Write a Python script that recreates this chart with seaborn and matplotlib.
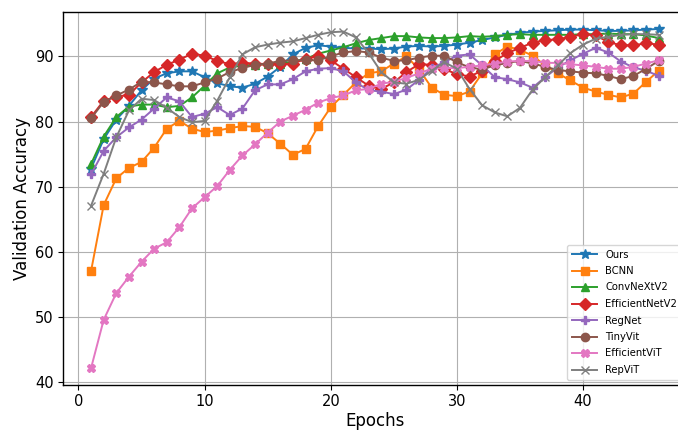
import matplotlib
matplotlib.use("Agg")
import matplotlib.pyplot as plt
import seaborn as sns
import numpy as np

epochs = list(range(1, 47))

ours = [72.8, 77.3, 80.3, 82.4, 84.8, 86.6, 87.4, 87.7, 87.7, 86.8,
        85.9, 85.4, 85.2, 85.8, 86.9, 88.4, 90.3, 91.3, 91.7, 91.5,
        91.3, 91.2, 91.2, 91.1, 91.2, 91.5, 91.6, 91.5, 91.6, 91.8,
        92.1, 92.5, 92.9, 93.3, 93.6, 93.8, 93.9, 94.0, 94.1, 94.1,
        94.0, 93.9, 93.9, 94.0, 94.1, 94.2]
bcnn = [57.1, 67.2, 71.3, 72.9, 73.8, 76.0, 78.9, 80.1, 78.9, 78.4,
        78.6, 79.0, 79.3, 79.2, 78.2, 76.6, 74.9, 75.8, 79.3, 82.2,
        84.1, 86.0, 87.4, 87.7, 88.9, 90.0, 88.0, 85.2, 84.1, 83.9,
        84.6, 87.4, 90.3, 91.5, 91.0, 90.1, 88.6, 87.4, 86.3, 85.2,
        84.6, 84.1, 83.7, 84.3, 86.1, 87.8]
convnext = [73.5, 77.7, 80.7, 82.3, 82.6, 82.6, 82.2, 82.4, 83.7, 85.5,
            87.4, 88.3, 88.6, 88.7, 88.8, 88.9, 89.2, 89.6, 90.4, 90.9,
            91.4, 92.0, 92.5, 92.8, 93.1, 93.1, 92.9, 92.8, 92.8, 92.9,
            93.1, 93.0, 93.1, 93.3, 93.4, 93.3, 93.3, 93.3, 93.3, 93.4,
            93.4, 93.5, 93.4, 93.4, 93.2, 92.8]
effnet = [80.7, 83.2, 83.8, 84.1, 86.0, 87.6, 88.7, 89.5, 90.4, 90.1,
          89.3, 88.8, 89.0, 88.9, 88.8, 88.8, 88.9, 89.6, 90.1, 89.4,
          88.1, 86.8, 85.5, 85.0, 86.0, 87.6, 88.8, 88.7, 88.0, 87.3,
          86.9, 87.8, 89.3, 90.5, 91.3, 92.1, 92.5, 92.6, 93.0, 93.4,
          93.2, 92.2, 91.7, 91.7, 92.0, 91.8]
regnet = [71.9, 75.5, 77.6, 79.1, 80.3, 82.0, 83.7, 83.1, 80.7, 81.2,
          82.2, 81.0, 82.0, 84.8, 85.7, 85.7, 86.5, 87.7, 88.1, 88.2,
          87.7, 86.0, 84.8, 84.6, 84.2, 84.9, 86.4, 88.2, 89.1, 90.1,
          90.3, 88.6, 86.8, 86.5, 86.0, 85.2, 86.8, 88.3, 89.4, 90.4,
          91.3, 90.6, 89.2, 88.3, 87.8, 87.0]
tinyvit = [80.5, 83.0, 84.0, 84.9, 86.1, 86.0, 85.7, 85.4, 85.4, 86.0,
           86.6, 87.6, 88.2, 88.7, 88.9, 89.3, 89.4, 89.4, 89.4, 90.0,
           90.6, 90.8, 90.6, 89.8, 89.3, 89.4, 89.8, 90.1, 90.1, 89.1,
           88.3, 88.0, 88.6, 89.0, 89.3, 88.9, 88.4, 87.9, 87.7, 87.5,
           87.4, 87.0, 86.5, 87.0, 88.1, 89.3]
effvit = [42.2, 49.6, 53.7, 56.2, 58.5, 60.5, 61.5, 63.8, 66.7, 68.4,
          70.1, 72.6, 74.8, 76.5, 78.3, 80.0, 80.9, 81.8, 82.9, 83.6,
          84.0, 84.8, 85.0, 85.8, 86.1, 86.7, 87.4, 88.1, 88.2, 88.2,
          88.4, 88.6, 88.9, 89.2, 89.3, 89.3, 89.0, 89.0, 88.8, 88.6,
          88.4, 88.1, 88.1, 88.4, 88.9, 89.4]
repvit = [67.1, 72.0, 77.6, 81.7, 83.5, 83.3, 82.1, 80.7, 79.9, 80.1,
          83.2, 86.8, 90.3, 91.4, 91.8, 92.1, 92.3, 92.8, 93.3, 93.7,
          93.8, 92.9, 90.5, 87.6, 86.0, 85.8, 86.4, 87.8, 89.1, 88.1,
          85.0, 82.5, 81.4, 80.8, 82.1, 84.9, 86.8, 88.6, 90.5, 91.8,
          92.7, 93.0, 93.3, 93.4, 93.4, 93.3]

names = ["Ours", "BCNN", "ConvNeXtV2", "EfficientNetV2", "RegNet",
         "TinyVit", "EfficientViT", "RepViT"]
series = [ours, bcnn, convnext, effnet, regnet, tinyvit, effvit, repvit]
markers = ["*", "s", "^", "D", "P", "o", "X", "x"]
colors = sns.color_palette("tab10", 8)

fig = plt.figure(figsize=(6.78, 4.30), dpi=100)
ax = fig.add_axes([62.7 / 678, 45 / 430, 624.4 / 678, 373 / 430])

for name, vals, m, c in zip(names, series, markers, colors):
    sns.lineplot(x=epochs, y=vals, ax=ax, color=c, marker=m, label=name,
                 linewidth=1.4, markersize=6 if m != "*" else 7,
                 markeredgecolor=c, markeredgewidth=1.0)

ax.set_xlim(-1.25, 48.25)
ax.set_ylim(39.6, 96.8)
ax.set_xticks([0, 10, 20, 30, 40])
ax.set_yticks([40, 50, 60, 70, 80, 90])
ax.grid(True, color="#b0b0b0", linewidth=0.8)
ax.set_axisbelow(True)
ax.tick_params(labelsize=10.5, pad=3)
ax.set_xlabel("Epochs", fontsize=12, labelpad=2)
ax.set_ylabel("Validation Accuracy", fontsize=12, labelpad=3)
for s in ax.spines.values():
    s.set_color("black")
    s.set_linewidth(1.0)
ax.legend(loc="lower right", fontsize=7.2, framealpha=0.8,
          handlelength=2.5, labelspacing=0.65, borderpad=0.5)

fig.savefig("out.png", dpi=100)
